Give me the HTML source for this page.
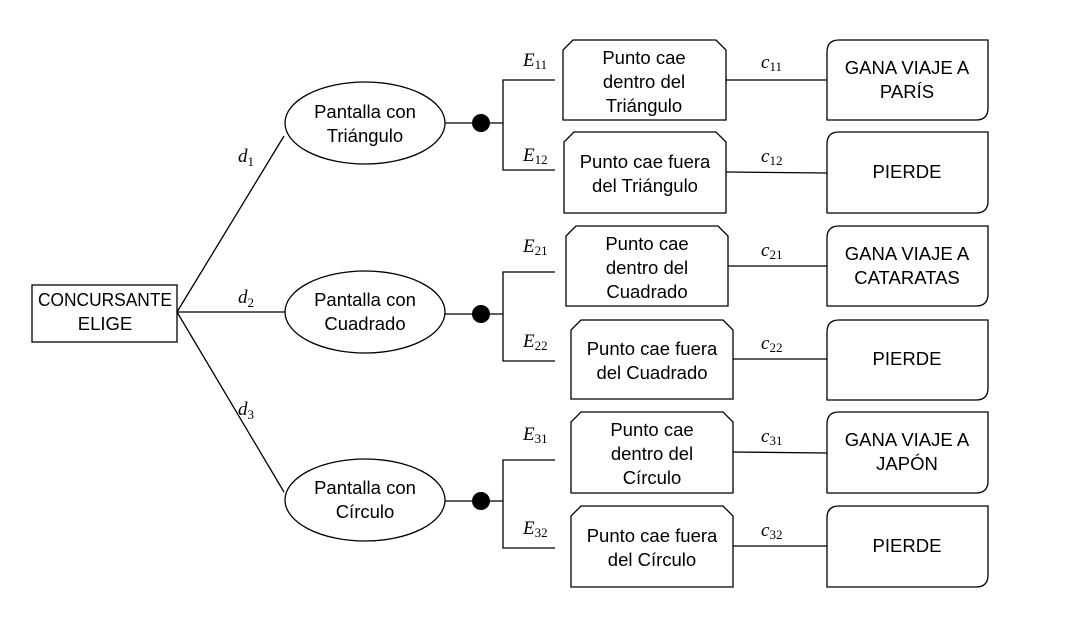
<!DOCTYPE html>
<html><head><meta charset="utf-8"><style>
body{margin:0;background:#fff;}
svg text{font-family:"Liberation Sans",sans-serif;font-size:18.5px;fill:#000;}
.m{font-family:"Liberation Serif",serif;font-style:italic;font-size:19px;}
.s{font-style:normal;font-size:13px;}
</style></head><body>
<svg width="1087" height="614" viewBox="0 0 1087 614" xmlns="http://www.w3.org/2000/svg">
<g stroke="#000" stroke-width="1.3" fill="none">
<rect x="32" y="285" width="145" height="57" fill="#fff"/>
<line x1="177" y1="312" x2="284" y2="136"/>
<line x1="177" y1="312" x2="285" y2="312"/>
<line x1="177" y1="312" x2="284" y2="492"/>
<ellipse cx="365" cy="123" rx="80" ry="41" fill="#fff"/>
<ellipse cx="365" cy="312" rx="80" ry="41" fill="#fff"/>
<ellipse cx="365" cy="500" rx="80" ry="41" fill="#fff"/>
<line x1="445" y1="123" x2="503" y2="123"/>
<line x1="445" y1="314" x2="503" y2="314"/>
<line x1="445" y1="501" x2="503" y2="501"/>
<polyline points="555,80 503,80 503,170 555,170"/>
<polyline points="555,272 503,272 503,361 555,361"/>
<polyline points="555,460 503,460 503,548 555,548"/>
<line x1="726" y1="80" x2="827" y2="80"/>
<line x1="726" y1="172" x2="827" y2="173"/>
<line x1="728" y1="266" x2="827" y2="266"/>
<line x1="733" y1="359" x2="827" y2="359"/>
<line x1="733" y1="452" x2="827" y2="453"/>
<line x1="733" y1="546" x2="827" y2="546"/>
<path d="M573,40 H716 L726,50 V120 H563 V50 Z"/>
<path d="M574,132 H716 L726,142 V213 H564 V142 Z"/>
<path d="M576,226 H718 L728,236 V306 H566 V236 Z"/>
<path d="M581,320 H723 L733,330 V399 H571 V330 Z"/>
<path d="M581,412 H723 L733,422 V493 H571 V422 Z"/>
<path d="M581,506 H723 L733,516 V587 H571 V516 Z"/>
<path d="M839,40 H988 V108 Q988,120 976,120 H827 V52 Q827,40 839,40 Z"/>
<path d="M839,132 H988 V201 Q988,213 976,213 H827 V144 Q827,132 839,132 Z"/>
<path d="M839,226 H988 V294 Q988,306 976,306 H827 V238 Q827,226 839,226 Z"/>
<path d="M839,320 H988 V388 Q988,400 976,400 H827 V332 Q827,320 839,320 Z"/>
<path d="M839,412 H988 V481 Q988,493 976,493 H827 V424 Q827,412 839,412 Z"/>
<path d="M839,506 H988 V575 Q988,587 976,587 H827 V518 Q827,506 839,506 Z"/>
</g>
<circle cx="481" cy="123" r="9"/><circle cx="481" cy="314" r="9"/><circle cx="481" cy="501" r="9"/>
<text x="38" y="306" textLength="134" lengthAdjust="spacingAndGlyphs">CONCURSANTE</text>
<g text-anchor="middle">
<text x="105" y="330">ELIGE</text>
<text x="365" y="118">Pantalla con</text><text x="365" y="142">Triángulo</text>
<text x="365" y="306">Pantalla con</text><text x="365" y="330">Cuadrado</text>
<text x="365" y="494">Pantalla con</text><text x="365" y="518">Círculo</text>
<text x="644" y="64">Punto cae</text><text x="644" y="88">dentro del</text><text x="644" y="112">Triángulo</text>
<text x="645" y="168">Punto cae fuera</text><text x="645" y="192">del Triángulo</text>
<text x="647" y="250">Punto cae</text><text x="647" y="274">dentro del</text><text x="647" y="298">Cuadrado</text>
<text x="652" y="355">Punto cae fuera</text><text x="652" y="379">del Cuadrado</text>
<text x="652" y="436">Punto cae</text><text x="652" y="460">dentro del</text><text x="652" y="484">Círculo</text>
<text x="652" y="542">Punto cae fuera</text><text x="652" y="566">del Círculo</text>
<text x="907" y="74">GANA VIAJE A</text><text x="907" y="98">PARÍS</text>
<text x="907" y="178">PIERDE</text>
<text x="907" y="260">GANA VIAJE A</text><text x="907" y="284">CATARATAS</text>
<text x="907" y="365">PIERDE</text>
<text x="907" y="446">GANA VIAJE A</text><text x="907" y="470">JAPÓN</text>
<text x="907" y="552">PIERDE</text>
</g>
<g class="m">
<text x="238" y="162" class="m">d<tspan class="s" dy="4">1</tspan></text>
<text x="238" y="303" class="m">d<tspan class="s" dy="4">2</tspan></text>
<text x="238" y="415" class="m">d<tspan class="s" dy="4">3</tspan></text>
<text x="523" y="66" class="m">E<tspan class="s" dy="3">11</tspan></text>
<text x="523" y="161" class="m">E<tspan class="s" dy="3">12</tspan></text>
<text x="523" y="252" class="m">E<tspan class="s" dy="3">21</tspan></text>
<text x="523" y="347" class="m">E<tspan class="s" dy="3">22</tspan></text>
<text x="523" y="440" class="m">E<tspan class="s" dy="3">31</tspan></text>
<text x="523" y="534" class="m">E<tspan class="s" dy="3">32</tspan></text>
<text x="761" y="68" class="m">c<tspan class="s" dy="3">11</tspan></text>
<text x="761" y="162" class="m">c<tspan class="s" dy="3">12</tspan></text>
<text x="761" y="256" class="m">c<tspan class="s" dy="3">21</tspan></text>
<text x="761" y="349" class="m">c<tspan class="s" dy="3">22</tspan></text>
<text x="761" y="442" class="m">c<tspan class="s" dy="3">31</tspan></text>
<text x="761" y="536" class="m">c<tspan class="s" dy="3">32</tspan></text>
</g>
</svg>
</body></html>
